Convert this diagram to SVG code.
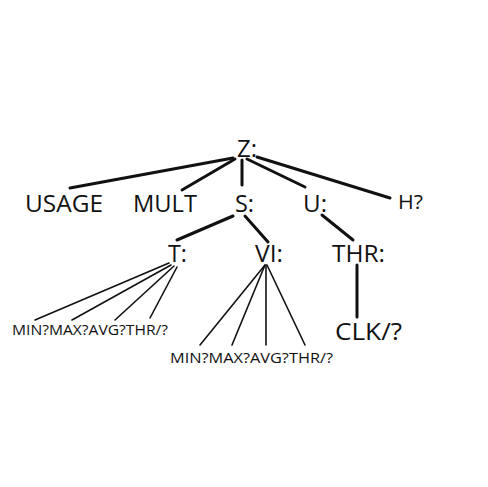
<svg xmlns="http://www.w3.org/2000/svg" width="488" height="487" viewBox="0 0 488 487">
<style>
text{font-family:"Open Sans","Liberation Sans",Arial,sans-serif;fill:#111;}
.b{font-size:24px;}
.s{font-size:14px;}
.h{font-size:20px;}
.e{stroke:#111;stroke-width:3;fill:none;stroke-linecap:round;}
.t{stroke:#111;stroke-width:1.6;fill:none;stroke-linecap:round;}
</style>
<rect width="488" height="487" fill="#fff"/>
<g id="connectors">
<line class="e" x1="233" y1="158" x2="70" y2="188"/>
<line class="e" x1="235" y1="159" x2="182" y2="190"/>
<line class="e" x1="242" y1="160" x2="242" y2="185"/>
<line class="e" x1="247" y1="159" x2="305" y2="187"/>
<line class="e" x1="257" y1="157" x2="390" y2="198"/>
<line class="e" x1="233" y1="216" x2="177" y2="240"/>
<line class="e" x1="245" y1="216" x2="268" y2="242"/>
<line class="e" x1="322" y1="215" x2="353" y2="240"/>
<line class="e" x1="357" y1="265" x2="357" y2="317"/>
<line class="t" x1="169" y1="263" x2="35" y2="320"/>
<line class="t" x1="171" y1="265" x2="72" y2="320"/>
<line class="t" x1="174" y1="266" x2="115" y2="320"/>
<line class="t" x1="177" y1="267" x2="150" y2="318"/>
<line class="t" x1="265" y1="265" x2="200" y2="345"/>
<line class="t" x1="265" y1="265" x2="232" y2="345"/>
<line class="t" x1="266" y1="265" x2="266" y2="345"/>
<line class="t" x1="267" y1="265" x2="305" y2="345"/>
</g>
<g id="n-z"><text class="b" x="237" y="157" textLength="20" lengthAdjust="spacingAndGlyphs">Z:</text></g>
<g id="n-usage"><text class="b" x="25" y="212" textLength="78" lengthAdjust="spacingAndGlyphs">USAGE</text></g>
<g id="n-mult"><text class="b" x="133" y="212" textLength="64" lengthAdjust="spacingAndGlyphs">MULT</text></g>
<g id="n-s"><text class="b" x="235" y="212" textLength="19" lengthAdjust="spacingAndGlyphs">S:</text></g>
<g id="n-u"><text class="b" x="303" y="212" textLength="24" lengthAdjust="spacingAndGlyphs">U:</text></g>
<g id="n-h"><text class="h" x="398" y="209" textLength="25" lengthAdjust="spacingAndGlyphs">H?</text></g>
<g id="n-t"><text class="b" x="168" y="262" textLength="19" lengthAdjust="spacingAndGlyphs">T:</text></g>
<g id="n-vi"><text class="b" x="255" y="262" textLength="28" lengthAdjust="spacingAndGlyphs">VI:</text></g>
<g id="n-thr"><text class="b" x="332" y="262" textLength="53" lengthAdjust="spacingAndGlyphs">THR:</text></g>
<g id="n-clk"><text class="b" x="335" y="340" textLength="67" lengthAdjust="spacingAndGlyphs">CLK/?</text></g>
<g id="n-t-leaves"><text class="s" x="12" y="335" textLength="156" lengthAdjust="spacingAndGlyphs">MIN?MAX?AVG?THR/?</text></g>
<g id="n-vi-leaves"><text class="s" x="170" y="363" textLength="163" lengthAdjust="spacingAndGlyphs">MIN?MAX?AVG?THR/?</text></g>
</svg>
